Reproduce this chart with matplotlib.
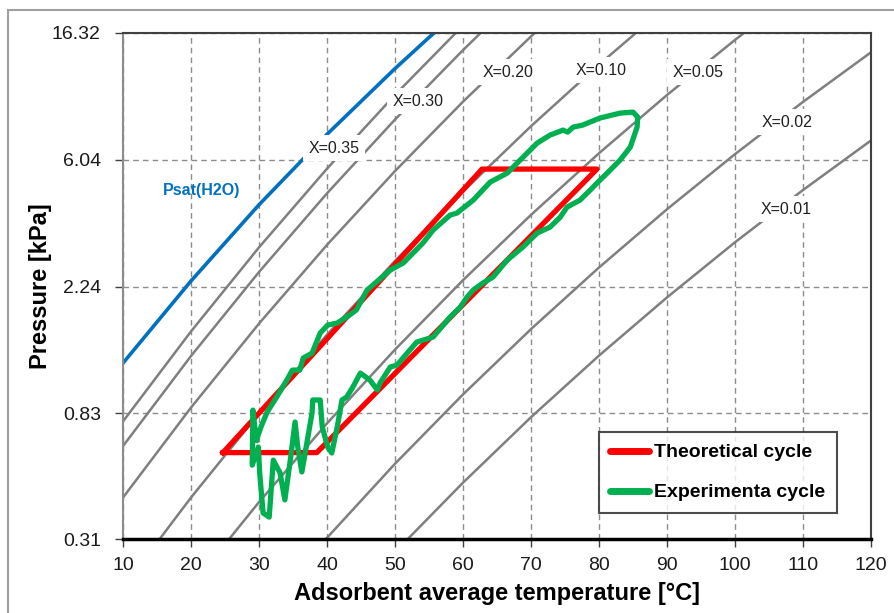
import matplotlib.pyplot as plt
from matplotlib.patches import Rectangle

# saturation pressure of water
t_sat = [10, 20, 30, 40, 50, 55, 60]
p_sat = [1.23, 2.34, 4.25, 7.38, 12.35, 15.76, 19.95]

# isosteres (X = kg water / kg adsorbent), every 10 °C
iso_names = ['X=0.35', 'X=0.30', 'X=0.20', 'X=0.10', 'X=0.05', 'X=0.02', 'X=0.01']
iso_t = [
    [10, 20, 30, 40, 50, 60],
    [10, 20, 30, 40, 50, 60, 65],
    [10, 20, 30, 40, 50, 60, 70, 75],
    [10, 20, 30, 40, 50, 60, 70, 80, 90],
    [20, 30, 40, 50, 60, 70, 80, 90, 100, 110],
    [30, 40, 50, 60, 70, 80, 90, 100, 110, 120],
    [40, 50, 60, 70, 80, 90, 100, 110, 120],
]
iso_p = [
    [0.779, 1.576, 3.044, 5.638, 10.05, 17.30],
    [0.642, 1.300, 2.510, 4.648, 8.285, 14.27, 18.50],
    [0.429, 0.868, 1.676, 3.104, 5.534, 9.529, 15.89, 20.30],
    [0.212, 0.429, 0.829, 1.536, 2.738, 4.714, 7.864, 12.74, 20.11],
    [0.214, 0.414, 0.767, 1.367, 2.354, 3.927, 6.364, 10.04, 15.46, 23.28],
    [0.169, 0.313, 0.559, 0.962, 1.605, 2.600, 4.103, 6.318, 9.513, 14.03],
    [0.157, 0.280, 0.482, 0.805, 1.304, 2.057, 3.168, 4.770, 7.033],
]
label_t = [41.0, 53.4, 66.6, 80.3, 94.6, 107.6, 107.5]
label_p = [6.62, 9.57, 12.0, 12.2, 12.0, 8.12, 4.11]

# theoretical cycle
theo_t = [24.7, 62.8, 79.7, 38.5, 24.7]
theo_p = [0.61, 5.62, 5.62, 0.61, 0.61]

# experimental cycle
exp_t = [29.6, 30.4, 31.2, 32.6, 34.1, 34.9, 36.0, 36.5, 37.8, 39.0, 40.1, 41.5,
         42.9, 44.3, 45.9, 49.3, 51.2, 54.1, 55.6, 58.1, 59.1, 61.5, 64.0, 66.5,
         68.4, 70.9, 72.8, 74.7, 75.4, 76.2, 77.6, 80.1, 83.1, 85.0, 85.7, 85.6,
         84.6, 83.1, 81.2, 79.7, 78.7, 77.2, 75.3, 74.3, 72.8, 70.9, 68.8, 66.5,
         64.4, 62.9, 61.5, 60.6, 59.6, 58.1, 55.6, 53.2, 51.8, 50.3, 49.3, 47.8,
         47.4, 46.3, 44.9, 43.8, 42.9, 42.2, 41.5, 40.7, 40.1, 39.3, 39.0, 37.9,
         37.8, 36.3, 35.7, 35.3, 34.6, 33.8, 33.1, 32.1, 31.5, 30.6, 30.1, 29.9,
         29.0, 29.1, 29.6]
exp_p = [0.673, 0.757, 0.838, 0.943, 1.077, 1.164, 1.164, 1.279, 1.330, 1.556, 1.656, 1.683,
         1.764, 1.863, 2.179, 2.548, 2.692, 3.148, 3.485, 3.920, 3.982, 4.408, 5.076, 5.446,
         6.03, 6.888, 7.334, 7.626, 7.508, 7.808, 7.931, 8.378, 8.712, 8.781, 8.444, 7.808,
         6.676, 6.03, 5.446, 5.036, 4.768, 4.408, 4.173, 3.859, 3.568, 3.404, 3.051, 2.756,
         2.412, 2.301, 2.179, 2.062, 1.907, 1.764, 1.508, 1.450, 1.330, 1.211, 1.192, 1.052,
         0.996, 1.077, 1.137, 1.019, 0.943, 0.921, 0.745, 0.608, 0.637, 0.745, 0.921, 0.921,
         0.832, 0.524, 0.637, 0.775, 0.575, 0.421, 0.520, 0.575, 0.368, 0.380, 0.520, 0.637,
         0.553, 0.851, 0.673]

y_ticks = [0.31, 0.83, 2.24, 6.04, 16.32]
x_ticks = list(range(10, 121, 10))

plt.rcParams['font.family'] = ['Liberation Sans', 'DejaVu Sans']

fig = plt.figure(figsize=(8.94, 6.13), dpi=100)
ax = fig.add_axes([0.1376, 0.1207, 0.8367, 0.8255])

# outer chart frame
fig.patches.append(Rectangle((8 / 894, -0.05), 1.2, 1 - 10 / 613 + 0.05, transform=fig.transFigure,
                             fill=False, edgecolor='#a0a0a0', linewidth=1.5))

for t, p in zip(iso_t, iso_p):
    ax.plot(t, p, color='#7f7f7f', lw=1.8, zorder=2)
ax.plot(t_sat, p_sat, color='#0070C0', lw=2.6, zorder=2)

for name, t, p in zip(iso_names, label_t, label_p):
    ax.text(t, p, name, fontsize=11.5, ha='center', va='center', color='#202020', zorder=4,
            bbox=dict(facecolor='white', edgecolor='none', pad=4))
ax.text(21.5, 4.77, 'Psat(H2O)', fontsize=11.5, fontweight='bold', color='#0070C0',
        ha='center', va='center', zorder=4)

ax.plot(theo_t, theo_p, color='#FF0000', lw=3.8, zorder=5, label='Theoretical cycle')
ax.plot(exp_t, exp_p, color='#00B050', lw=3.8, zorder=6, label='Experimenta cycle')

ax.set_yscale('log')
ax.set_xlim(10, 120)
ax.set_ylim(0.31, 16.32)
ax.set_yticks(y_ticks)
ax.set_yticklabels([f'{v:.2f}' for v in y_ticks])
ax.minorticks_off()
ax.set_xticks(x_ticks)
ax.tick_params(labelsize=14, colors='#404040', length=6, width=1, labelcolor='#1a1a1a')
ax.tick_params(axis='x', pad=7)
ax.tick_params(axis='y', pad=10)
ax.grid(True, color='#8c8c8c', linestyle=(0, (4, 3)), linewidth=1)

ax.spines['left'].set_color('#8c8c8c')
ax.spines['left'].set_linewidth(1.5)
ax.spines['bottom'].set_color('black')
ax.spines['bottom'].set_linewidth(2.5)
for s in ['top', 'right']:
    ax.spines[s].set_color('#404040')
    ax.spines[s].set_linewidth(1.5)

ax.set_xlabel('Adsorbent average temperature [°C]', fontsize=17, fontweight='bold', labelpad=6)
ax.set_ylabel('Pressure [kPa]', fontsize=17, fontweight='bold')
ax.yaxis.set_label_coords(-0.095, 0.5)

leg = ax.legend(loc='lower right', bbox_to_anchor=(0.9545, 0.0514), borderaxespad=0,
                prop={'weight': 'bold', 'size': 14}, frameon=True, fancybox=False,
                handlelength=2.0, handletextpad=0.25, borderpad=0.6, labelspacing=1.15)
leg.get_frame().set_edgecolor('#202020')
leg.get_frame().set_linewidth(1.5)
for line in leg.get_lines():
    line.set_linewidth(5)
    line.set_solid_capstyle('round')

fig.savefig('out.png', dpi=100)
